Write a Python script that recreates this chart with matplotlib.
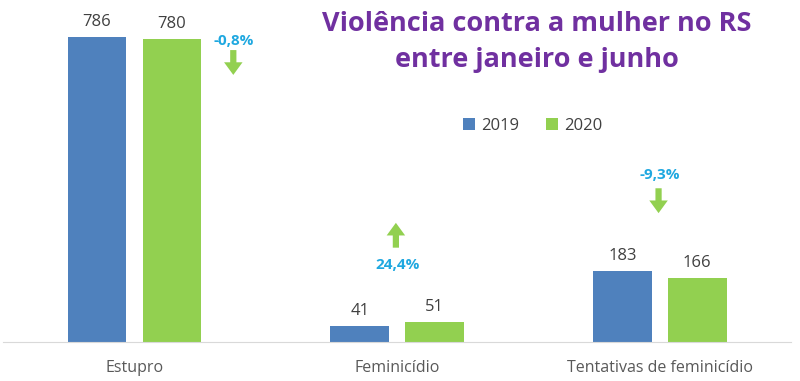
import matplotlib.pyplot as plt
import numpy as np

categories = ['Estupro', 'Feminicídio', 'Tentativas de feminicídio']
values_2019 = [786, 41, 183]
values_2020 = [780, 51, 166]
changes = ['-0,8%', '24,4%', '-9,3%']

blue = '#4F81BD'
green = '#92D050'
purple = '#7030A0'
cyan = '#1FA8E0'

plt.rcParams['font.family'] = ['Open Sans', 'DejaVu Sans']

fig = plt.figure(figsize=(8, 3.81), dpi=100)
ax = fig.add_axes([0.004, 1 - 342 / 381, 0.985, 342 / 381])

x = np.arange(len(categories))
w = 0.224
off = 0.1426
b1 = ax.bar(x - off, values_2019, w, color=blue, label='2019')
b2 = ax.bar(x + off, values_2020, w, color=green, label='2020')

for bars in (b1, b2):
    for b in bars:
        ax.text(b.get_x() + b.get_width() / 2, b.get_height() + 18, str(int(b.get_height())),
                ha='center', va='bottom', fontsize=12, color='#404040')

ax.set_xlim(-0.5, 2.5)
ax.set_ylim(0, 881)
ax.set_xticks(x)
ax.set_xticklabels(categories, fontsize=11.5, color='#595959')
ax.tick_params(axis='x', length=0, pad=13)
ax.set_yticks([])
for s in ['top', 'right', 'left']:
    ax.spines[s].set_visible(False)
ax.spines['bottom'].set_color('#D9D9D9')

# percentage changes with arrows
arrow = dict(arrowstyle='simple,head_width=0.95,head_length=0.65,tail_width=0.32',
             color=green, lw=0, shrinkA=0, shrinkB=0, mutation_scale=14)
# Estupro: down
ax.text(0.376, 776, changes[0], ha='center', va='center', fontsize=11, color=cyan, fontweight='bold')
ax.annotate('', xy=(0.376, 688), xytext=(0.376, 752), arrowprops=arrow)
# Feminicidio: up
ax.text(1.0, 198, changes[1], ha='center', va='center', fontsize=11, color=cyan, fontweight='bold')
ax.annotate('', xy=(0.995, 307), xytext=(0.995, 243), arrowprops=arrow)
# Tentativas: down
ax.text(2.0, 430, changes[2], ha='center', va='center', fontsize=11, color=cyan, fontweight='bold')
ax.annotate('', xy=(1.995, 332), xytext=(1.995, 396), arrowprops=arrow)

fig.text(537 / 800, 1 - 42 / 381, 'Violência contra a mulher no RS\nentre janeiro e junho',
         ha='center', va='center', fontsize=19.5, fontweight='bold', color=purple, linespacing=1.5)

ax.legend(loc='center', bbox_to_anchor=(533 / 800, 1 - 126 / 381), bbox_transform=fig.transFigure,
          ncol=2, frameon=False, fontsize=12, handlelength=0.7, handleheight=0.7,
          handletextpad=0.4, columnspacing=1.6, labelcolor='#404040')

fig.savefig('out.png', dpi=100)
